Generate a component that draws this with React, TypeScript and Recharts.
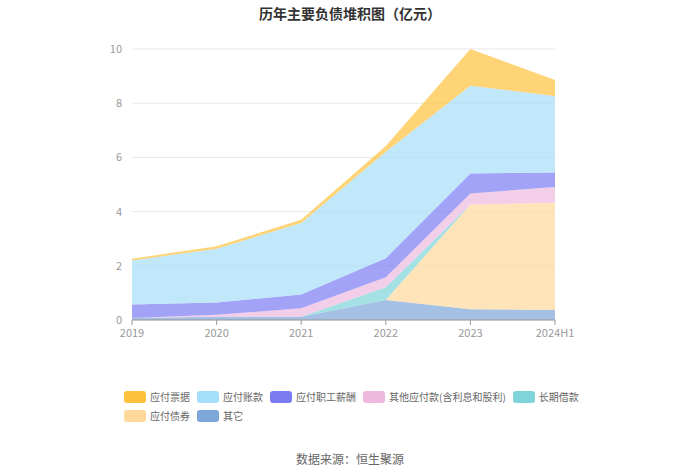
import React from "react";
import { AreaChart, Area, XAxis, YAxis, CartesianGrid } from "recharts";

const categories = ["2019", "2020", "2021", "2022", "2023", "2024H1"];
const notesPayable = [0.06, 0.09, 0.12, 0.21, 1.36, 0.59];
const accountsPayable = [1.63, 1.98, 2.64, 3.93, 3.23, 2.83];
const staffPayable = [0.5, 0.46, 0.51, 0.7, 0.74, 0.53];
const otherPayable = [0.0, 0.07, 0.31, 0.37, 0.41, 0.58];
const longLoans = [0, 0, 0, 0.47, 0.0, 0];
const bonds = [0, 0, 0, 0, 3.86, 3.96];
const others = [0.07, 0.12, 0.12, 0.74, 0.4, 0.37];
const yTicks = [0, 2, 4, 6, 8, 10];

const series = [
  { key: "others", name: "其它", color: "#7EA6DA", values: others },
  { key: "bonds", name: "应付债券", color: "#FFD99C", values: bonds },
  { key: "longLoans", name: "长期借款", color: "#7ED4D8", values: longLoans },
  { key: "otherPayable", name: "其他应付款(含利息和股利)", color: "#EDB9DF", values: otherPayable },
  { key: "staffPayable", name: "应付职工薪酬", color: "#7B7CF2", values: staffPayable },
  { key: "accountsPayable", name: "应付账款", color: "#A5DEF8", values: accountsPayable },
  { key: "notesPayable", name: "应付票据", color: "#FFC23C", values: notesPayable },
];

const legendOrder = [
  "notesPayable",
  "accountsPayable",
  "staffPayable",
  "otherPayable",
  "longLoans",
  "bonds",
  "others",
];

const data = categories.map((c, i) => {
  const row: Record<string, number | string> = { name: c };
  series.forEach((s) => {
    row[s.key] = s.values[i];
  });
  return row;
});

const font = '"Noto Sans CJK SC", "Noto Sans", sans-serif';

export default function App() {
  return (
    <div
      style={{
        position: "absolute",
        left: 0,
        top: 0,
        width: 700,
        height: 474,
        background: "#fff",
        fontFamily: font,
      }}
    >
      <div
        style={{
          position: "absolute",
          top: 3,
          left: 0,
          width: 700,
          textAlign: "center",
          fontSize: 14,
          fontWeight: "bold",
          color: "#333",
        }}
      >
        历年主要负债堆积图（亿元）
      </div>
      <AreaChart
        width={700}
        height={474}
        data={data}
        margin={{ top: 49, right: 145, bottom: 124, left: 92 }}
      >
        <CartesianGrid vertical={false} stroke="#e8e8e8" />
        <XAxis
          dataKey="name"
          tick={{ fill: "#999", fontSize: 11, fontFamily: font }}
          tickLine={{ stroke: "#999" }}
          axisLine={{ stroke: "#999" }}
          tickSize={5}
          tickMargin={4}
          interval={0}
        />
        <YAxis
          width={40}
          domain={[0, 10]}
          ticks={yTicks}
          axisLine={false}
          tickLine={false}
          tickMargin={4}
          tick={{ fill: "#999", fontSize: 11, fontFamily: font }}
        />
        {series.map((s) => (
          <Area
            key={s.key}
            type="linear"
            dataKey={s.key}
            name={s.name}
            stackId="a"
            stroke="none"
            fill={s.color}
            fillOpacity={0.7}
            isAnimationActive={false}
            activeDot={false}
          />
        ))}
      </AreaChart>
      <div
        style={{
          position: "absolute",
          left: 124,
          top: 391,
          width: 470,
          display: "flex",
          flexWrap: "wrap",
          rowGap: 7,
          fontSize: 10,
          color: "#666",
        }}
      >
        {legendOrder.map((k) => {
          const s = series.find((x) => x.key === k)!;
          return (
            <div key={k} style={{ display: "flex", alignItems: "center", marginRight: 7, height: 12 }}>
              <div
                style={{
                  width: 22,
                  height: 12,
                  borderRadius: 3,
                  background: s.color,
                  marginRight: 4,
                }}
              />
              <span style={{ lineHeight: "12px", whiteSpace: "nowrap" }}>{s.name}</span>
            </div>
          );
        })}
      </div>
      <div
        style={{
          position: "absolute",
          top: 450,
          left: 0,
          width: 700,
          textAlign: "center",
          fontSize: 12,
          color: "#666",
        }}
      >
        数据来源：恒生聚源
      </div>
    </div>
  );
}
